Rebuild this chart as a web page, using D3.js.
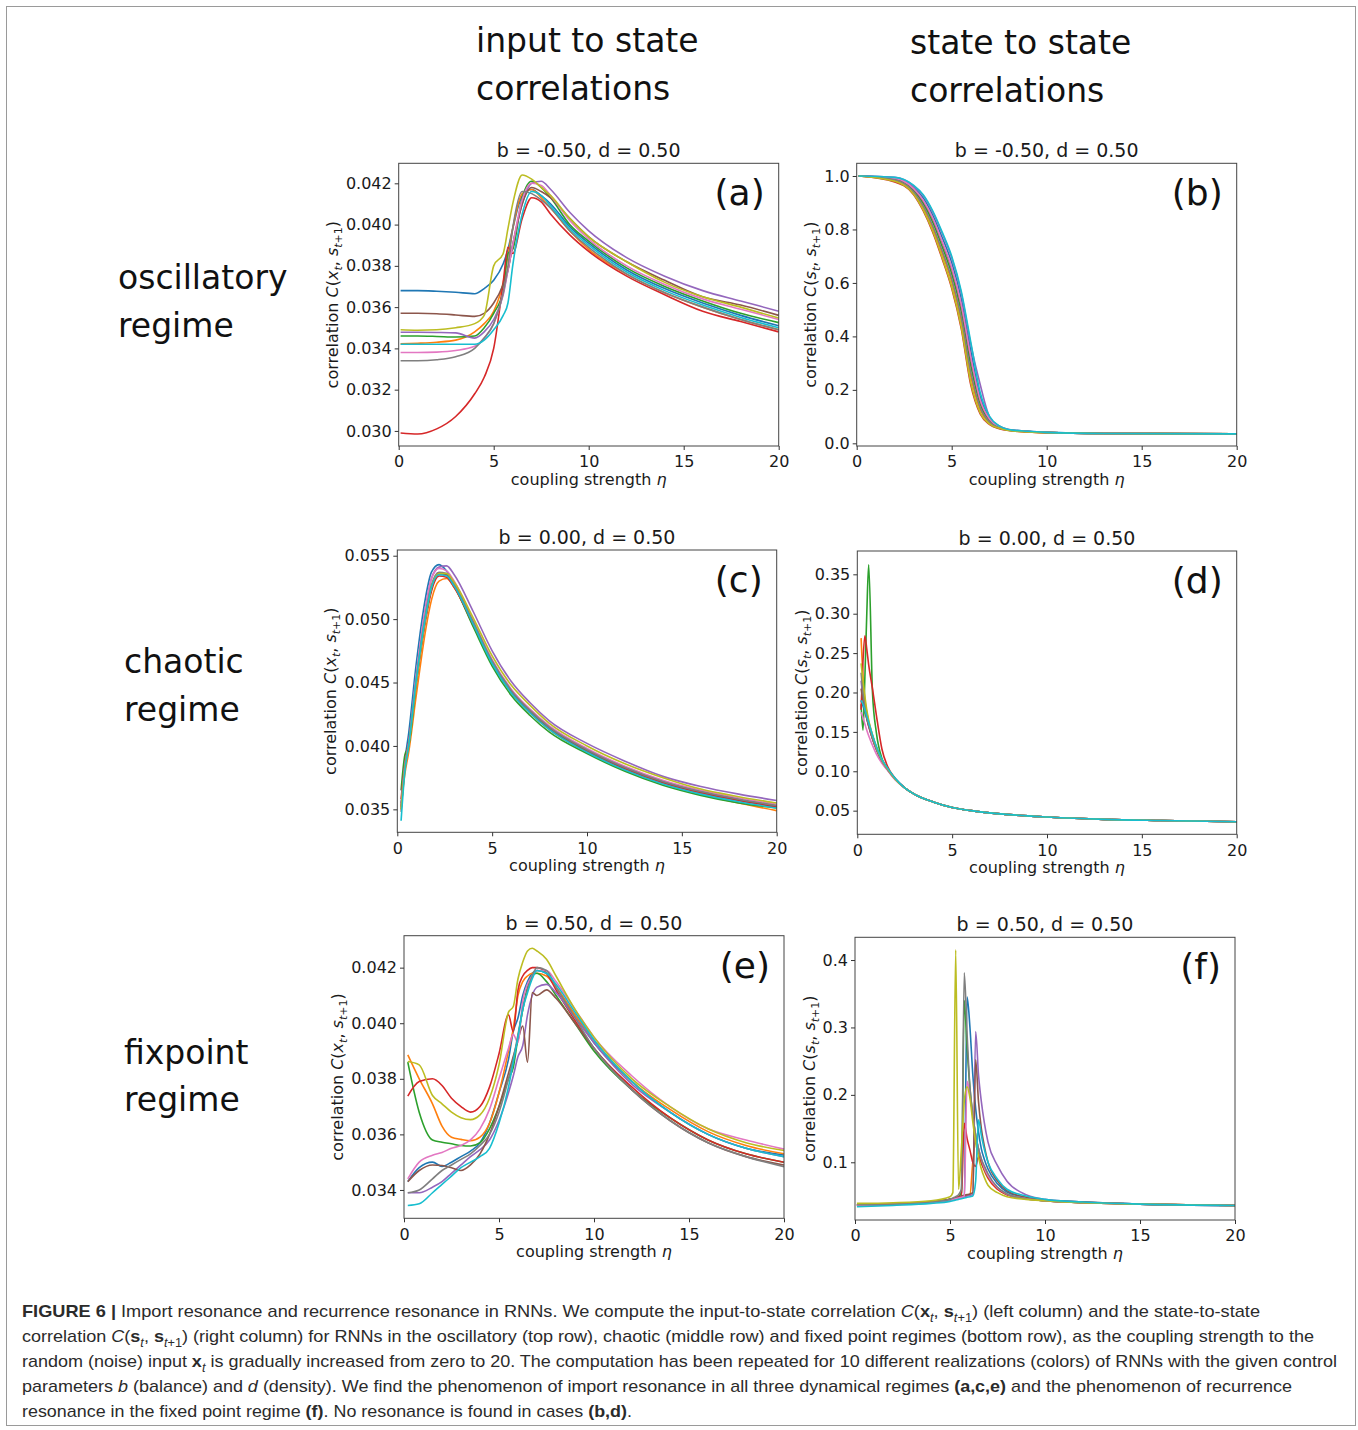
<!DOCTYPE html>
<html>
<head>
<meta charset="utf-8">
<script src="https://cdn.jsdelivr.net/npm/d3@7"></script>
<style>
  body { margin: 0; background: #fff; }
  text { font-family: "DejaVu Sans", sans-serif; }
</style>
</head>
<body>
<svg id="fig" width="1358" height="1430"></svg>
<script>
// series order: matplotlib tab10 (blue, orange, green, red, purple, brown, pink, gray, olive, cyan)
const colors = ["#1f77b4", "#ff7f0e", "#2ca02c", "#d62728", "#9467bd", "#8c564b", "#e377c2", "#7f7f7f", "#bcbd22", "#17becf"];

const xTicks = [0, 5, 10, 15, 20];

// (a) oscillatory, input to state
const etaA = [0.1, 1, 2, 3, 4, 4.5, 5, 5.5, 5.75, 6, 6.5, 7, 7.5, 8, 9, 10, 12, 14, 16, 18, 20];
const corrA = [
  [0.0368, 0.0368, 0.03677, 0.03672, 0.03665, 0.0369, 0.0373, 0.0381, 0.0388, 0.0398, 0.0414, 0.0417, 0.0414, 0.0410, 0.0399, 0.0391, 0.0378, 0.0369, 0.0362, 0.0356, 0.0351],
  [0.03422, 0.03425, 0.0343, 0.0344, 0.0348, 0.0352, 0.0358, 0.0372, 0.0385, 0.0398, 0.0415, 0.0417, 0.0413, 0.0408, 0.0397, 0.0388, 0.0376, 0.0367, 0.0360, 0.0354, 0.0349],
  [0.0346, 0.0346, 0.03458, 0.03455, 0.0346, 0.0350, 0.0357, 0.0368, 0.0386, 0.0388, 0.0413, 0.0421, 0.0418, 0.0413, 0.0400, 0.0392, 0.0379, 0.0370, 0.0363, 0.0357, 0.03525],
  [0.0299, 0.02985, 0.0301, 0.0307, 0.0318, 0.0326, 0.0340, 0.0372, 0.0389, 0.0386, 0.0403, 0.0413, 0.0411, 0.0405, 0.0395, 0.0387, 0.0375, 0.0366, 0.0358, 0.0353, 0.0348],
  [0.03478, 0.03478, 0.03477, 0.03475, 0.0345, 0.0348, 0.0354, 0.0366, 0.0378, 0.0390, 0.0410, 0.0420, 0.0421, 0.0417, 0.0406, 0.0397, 0.0384, 0.0375, 0.0368, 0.0363, 0.0358],
  [0.0357, 0.0357, 0.03568, 0.03562, 0.03555, 0.0357, 0.0362, 0.0371, 0.0378, 0.0390, 0.0410, 0.0418, 0.0416, 0.0413, 0.0403, 0.0394, 0.0382, 0.0373, 0.0365, 0.0361, 0.0356],
  [0.0338, 0.0338, 0.03382, 0.0339, 0.0341, 0.0345, 0.0352, 0.0367, 0.0378, 0.0390, 0.0412, 0.0420, 0.0419, 0.0414, 0.0402, 0.0393, 0.0380, 0.0371, 0.0364, 0.0359, 0.0354],
  [0.0334, 0.0334, 0.03345, 0.0336, 0.0340, 0.0345, 0.0352, 0.0367, 0.0380, 0.0398, 0.0416, 0.0415, 0.0412, 0.0408, 0.0397, 0.0389, 0.0376, 0.0367, 0.0360, 0.0354, 0.0349],
  [0.0349, 0.03488, 0.0349, 0.0350, 0.0352, 0.0356, 0.0380, 0.0386, 0.0398, 0.0410, 0.0424, 0.0422, 0.0418, 0.0414, 0.0403, 0.0394, 0.0382, 0.0372, 0.0365, 0.0360, 0.03547],
  [0.0342, 0.0342, 0.0342, 0.0342, 0.0342, 0.0344, 0.0349, 0.0356, 0.0362, 0.0380, 0.0405, 0.0416, 0.0414, 0.0409, 0.0398, 0.0390, 0.0377, 0.0368, 0.0361, 0.0355, 0.0350]
];
const yTicksA = [0.030, 0.032, 0.034, 0.036, 0.038, 0.040, 0.042];

// (b) oscillatory, state to state
const etaB = [0.1, 2, 3, 3.5, 4, 4.5, 5, 5.5, 6, 6.5, 7, 7.5, 8, 9, 10, 13, 20];
const corrB = [
  [1.0, 0.993, 0.958, 0.918, 0.854, 0.770, 0.676, 0.542, 0.348, 0.174, 0.094, 0.063, 0.051, 0.045, 0.0408, 0.037, 0.0356],
  [1.0, 0.984, 0.937, 0.882, 0.806, 0.710, 0.604, 0.458, 0.252, 0.126, 0.076, 0.057, 0.049, 0.043, 0.040, 0.037, 0.036],
  [1.0, 0.988, 0.946, 0.897, 0.827, 0.735, 0.634, 0.493, 0.292, 0.146, 0.084, 0.060, 0.050, 0.044, 0.0405, 0.037, 0.0358],
  [1.0, 0.978, 0.930, 0.870, 0.790, 0.690, 0.580, 0.430, 0.220, 0.110, 0.070, 0.055, 0.048, 0.043, 0.040, 0.037, 0.036],
  [1.0, 0.995, 0.963, 0.927, 0.866, 0.785, 0.694, 0.563, 0.372, 0.220, 0.098, 0.065, 0.052, 0.045, 0.041, 0.037, 0.0355],
  [1.0, 0.990, 0.951, 0.906, 0.839, 0.750, 0.652, 0.514, 0.316, 0.158, 0.088, 0.061, 0.050, 0.044, 0.0406, 0.037, 0.0357],
  [1.0, 0.991, 0.953, 0.909, 0.843, 0.755, 0.658, 0.521, 0.324, 0.162, 0.090, 0.062, 0.051, 0.044, 0.0406, 0.037, 0.0357],
  [1.0, 0.986, 0.940, 0.888, 0.814, 0.720, 0.616, 0.472, 0.268, 0.134, 0.079, 0.058, 0.049, 0.044, 0.040, 0.037, 0.036],
  [1.0, 0.980, 0.932, 0.873, 0.794, 0.695, 0.586, 0.437, 0.228, 0.114, 0.072, 0.056, 0.048, 0.043, 0.040, 0.037, 0.036],
  [1.0, 0.995, 0.965, 0.930, 0.870, 0.790, 0.700, 0.570, 0.380, 0.190, 0.100, 0.065, 0.052, 0.045, 0.041, 0.037, 0.0355]
];
const yTicksB = [0.0, 0.2, 0.4, 0.6, 0.8, 1.0];

// (c) chaotic, input to state
const etaC = [0.2, 0.4, 0.6, 1, 1.5, 1.8, 2.2, 2.6, 3, 4, 5, 6, 7, 8, 10, 12, 14, 16, 18, 20];
const corrC = [
  [0.0350, 0.0388, 0.0410, 0.0465, 0.0518, 0.0537, 0.0543, 0.0538, 0.0528, 0.0497, 0.0466, 0.0443, 0.0427, 0.0414, 0.0396, 0.0382, 0.0371, 0.0363, 0.0357, 0.0352],
  [0.0352, 0.0378, 0.0395, 0.0440, 0.0492, 0.0515, 0.0530, 0.0532, 0.0525, 0.0495, 0.0465, 0.0442, 0.0426, 0.0413, 0.0395, 0.0381, 0.0370, 0.0362, 0.0355, 0.0349],
  [0.0365, 0.0393, 0.0400, 0.0450, 0.0502, 0.0524, 0.0536, 0.0535, 0.0526, 0.0494, 0.0463, 0.0440, 0.0424, 0.0411, 0.0394, 0.0380, 0.0369, 0.0361, 0.0355, 0.0351],
  [0.0358, 0.0386, 0.0403, 0.0450, 0.0500, 0.0522, 0.0534, 0.0533, 0.0525, 0.0496, 0.0466, 0.0443, 0.0427, 0.0414, 0.0396, 0.0382, 0.0371, 0.0363, 0.0357, 0.0352],
  [0.0355, 0.0385, 0.0402, 0.0455, 0.0510, 0.0532, 0.0541, 0.0542, 0.0535, 0.0506, 0.0475, 0.0451, 0.0434, 0.0420, 0.0402, 0.0388, 0.0376, 0.0368, 0.0362, 0.0357],
  [0.0352, 0.0384, 0.0401, 0.0451, 0.0502, 0.0524, 0.0536, 0.0535, 0.0527, 0.0497, 0.0466, 0.0443, 0.0427, 0.0414, 0.0396, 0.0383, 0.0372, 0.0364, 0.0358, 0.0353],
  [0.0350, 0.0384, 0.0402, 0.0456, 0.0510, 0.0532, 0.0540, 0.0538, 0.0530, 0.0499, 0.0468, 0.0445, 0.0429, 0.0416, 0.0398, 0.0384, 0.0373, 0.0365, 0.0359, 0.0354],
  [0.0348, 0.0383, 0.0401, 0.0453, 0.0505, 0.0527, 0.0537, 0.0536, 0.0528, 0.0498, 0.0467, 0.0444, 0.0428, 0.0415, 0.0397, 0.0383, 0.0372, 0.0364, 0.0358, 0.0353],
  [0.0350, 0.0382, 0.0400, 0.0450, 0.0502, 0.0525, 0.0536, 0.0536, 0.0529, 0.0501, 0.0471, 0.0448, 0.0432, 0.0418, 0.0400, 0.0386, 0.0375, 0.0366, 0.0360, 0.0355],
  [0.0341, 0.0380, 0.0400, 0.0452, 0.0503, 0.0525, 0.0535, 0.0534, 0.0526, 0.0496, 0.0465, 0.0442, 0.0426, 0.0413, 0.0395, 0.0381, 0.0370, 0.0362, 0.0356, 0.0351]
];
const yTicksC = [0.035, 0.040, 0.045, 0.050, 0.055];

// (d) chaotic, state to state
const etaD = [0.2, 0.3, 0.4, 0.5, 0.6, 0.8, 1.0, 1.3, 1.6, 2, 2.5, 3, 4, 5, 6, 8, 10, 13, 16, 20];
const corrD = [
  [0.190, 0.183, 0.175, 0.167, 0.158, 0.142, 0.129, 0.113, 0.102, 0.090, 0.079, 0.071, 0.061, 0.054, 0.050, 0.045, 0.042, 0.039, 0.0375, 0.036],
  [0.269, 0.220, 0.190, 0.175, 0.163, 0.146, 0.131, 0.115, 0.103, 0.090, 0.079, 0.071, 0.061, 0.054, 0.050, 0.045, 0.042, 0.039, 0.0375, 0.036],
  [0.185, 0.152, 0.220, 0.300, 0.362, 0.200, 0.150, 0.116, 0.103, 0.090, 0.079, 0.071, 0.061, 0.054, 0.050, 0.045, 0.042, 0.039, 0.0375, 0.036],
  [0.178, 0.240, 0.272, 0.255, 0.235, 0.205, 0.172, 0.128, 0.106, 0.091, 0.079, 0.071, 0.061, 0.054, 0.050, 0.045, 0.042, 0.039, 0.0375, 0.036],
  [0.215, 0.195, 0.180, 0.168, 0.158, 0.142, 0.128, 0.112, 0.102, 0.090, 0.079, 0.071, 0.061, 0.054, 0.050, 0.045, 0.042, 0.039, 0.0375, 0.036],
  [0.205, 0.190, 0.178, 0.167, 0.157, 0.141, 0.128, 0.112, 0.102, 0.090, 0.079, 0.071, 0.061, 0.054, 0.050, 0.045, 0.042, 0.039, 0.0375, 0.036],
  [0.175, 0.168, 0.160, 0.152, 0.145, 0.133, 0.122, 0.110, 0.101, 0.089, 0.079, 0.071, 0.061, 0.054, 0.050, 0.045, 0.042, 0.039, 0.0375, 0.036],
  [0.225, 0.200, 0.183, 0.170, 0.160, 0.143, 0.129, 0.113, 0.102, 0.090, 0.079, 0.071, 0.061, 0.054, 0.050, 0.045, 0.042, 0.039, 0.0375, 0.036],
  [0.237, 0.215, 0.195, 0.178, 0.165, 0.146, 0.131, 0.114, 0.103, 0.090, 0.079, 0.071, 0.061, 0.054, 0.050, 0.045, 0.042, 0.039, 0.0375, 0.036],
  [0.190, 0.185, 0.178, 0.170, 0.162, 0.146, 0.132, 0.115, 0.104, 0.091, 0.079, 0.071, 0.061, 0.054, 0.050, 0.045, 0.042, 0.039, 0.0375, 0.036]
];
const yTicksD = [0.05, 0.10, 0.15, 0.20, 0.25, 0.30, 0.35];

// (e) fixpoint, input to state
const etaE = [0.2, 0.8, 1.5, 2, 2.5, 3, 3.5, 4, 4.5, 5, 5.5, 5.75, 6, 6.25, 6.5, 6.75, 7, 7.5, 8, 9, 10, 12, 14, 16, 18, 20];
const corrE = [
  [0.0343, 0.0348, 0.0350, 0.03485, 0.0350, 0.0352, 0.0354, 0.0357, 0.0364, 0.0375, 0.0387, 0.0397, 0.0402, 0.0410, 0.0415, 0.0418, 0.0419, 0.0418, 0.0413, 0.0403, 0.0393, 0.0379, 0.0368, 0.0360, 0.0355, 0.03526],
  [0.03886, 0.0380, 0.0371, 0.0363, 0.0359, 0.03582, 0.03577, 0.0359, 0.0364, 0.0375, 0.0390, 0.0398, 0.0410, 0.0415, 0.0417, 0.0418, 0.0418, 0.0417, 0.0413, 0.0403, 0.0394, 0.0379, 0.0369, 0.0361, 0.0356, 0.0353],
  [0.0386, 0.0368, 0.0358, 0.03572, 0.03566, 0.0356, 0.03558, 0.0357, 0.0362, 0.0370, 0.0380, 0.0384, 0.0395, 0.0405, 0.0413, 0.0417, 0.0418, 0.0415, 0.0410, 0.0400, 0.0390, 0.0376, 0.0366, 0.0358, 0.0353, 0.0350],
  [0.03738, 0.0379, 0.0380, 0.03776, 0.0373, 0.0370, 0.0368, 0.0370, 0.0377, 0.0389, 0.0403, 0.0397, 0.0412, 0.0417, 0.0419, 0.0420, 0.0420, 0.0418, 0.0412, 0.0401, 0.0391, 0.0377, 0.0366, 0.0358, 0.0353, 0.0350],
  [0.0339, 0.0339, 0.0341, 0.0343, 0.0346, 0.0349, 0.0352, 0.03545, 0.0358, 0.0365, 0.0375, 0.0381, 0.0388, 0.0392, 0.0403, 0.0410, 0.0413, 0.0414, 0.0411, 0.0402, 0.0393, 0.0378, 0.0368, 0.0360, 0.0355, 0.0352],
  [0.0343, 0.0347, 0.0349, 0.03488, 0.0348, 0.0347, 0.0349, 0.0353, 0.0360, 0.0370, 0.0382, 0.0388, 0.0394, 0.0399, 0.0386, 0.0411, 0.0410, 0.0412, 0.0409, 0.0400, 0.0391, 0.0376, 0.0365, 0.0357, 0.0352, 0.0349],
  [0.0344, 0.0350, 0.03525, 0.03535, 0.0355, 0.0356, 0.0358, 0.0362, 0.0369, 0.0380, 0.0391, 0.0396, 0.0393, 0.0408, 0.0414, 0.0417, 0.0419, 0.0419, 0.0415, 0.0405, 0.0395, 0.0381, 0.0370, 0.0362, 0.0358, 0.03547],
  [0.0339, 0.0340, 0.0344, 0.0347, 0.0349, 0.0351, 0.0353, 0.0356, 0.0360, 0.0368, 0.0380, 0.0387, 0.0396, 0.0405, 0.0412, 0.0417, 0.0420, 0.0419, 0.0413, 0.0402, 0.0391, 0.0376, 0.0365, 0.0357, 0.0352, 0.03484],
  [0.03862, 0.0385, 0.0374, 0.0371, 0.0368, 0.0366, 0.03653, 0.0367, 0.0373, 0.0385, 0.0404, 0.0406, 0.0416, 0.0422, 0.0426, 0.0427, 0.0426, 0.0423, 0.0417, 0.0405, 0.0395, 0.0380, 0.0370, 0.0362, 0.0357, 0.03542],
  [0.03344, 0.0335, 0.0339, 0.0342, 0.0345, 0.0348, 0.0350, 0.0352, 0.0355, 0.0364, 0.0377, 0.0386, 0.0395, 0.0405, 0.0411, 0.0416, 0.0419, 0.0418, 0.0414, 0.0404, 0.0394, 0.0379, 0.0368, 0.0360, 0.0355, 0.0352]
];
const yTicksE = [0.034, 0.036, 0.038, 0.040, 0.042];

// (f) fixpoint, state to state
const etaF = [0.1, 2, 4, 5, 5.15, 5.3, 5.45, 5.6, 5.75, 5.9, 6.05, 6.2, 6.35, 6.5, 6.65, 6.8, 7, 7.5, 8, 9, 10, 12, 15, 20];
const corrF = [
  [0.036, 0.038, 0.040, 0.044, 0.045, 0.046, 0.047, 0.048, 0.050, 0.345, 0.300, 0.230, 0.180, 0.145, 0.120, 0.105, 0.090, 0.068, 0.056, 0.048, 0.044, 0.041, 0.038, 0.036],
  [0.037, 0.038, 0.041, 0.045, 0.046, 0.047, 0.048, 0.049, 0.050, 0.051, 0.052, 0.100, 0.130, 0.115, 0.100, 0.088, 0.076, 0.060, 0.052, 0.046, 0.043, 0.040, 0.038, 0.036],
  [0.037, 0.038, 0.041, 0.045, 0.046, 0.047, 0.049, 0.055, 0.340, 0.270, 0.210, 0.170, 0.140, 0.120, 0.100, 0.090, 0.078, 0.062, 0.053, 0.046, 0.043, 0.040, 0.038, 0.036],
  [0.037, 0.038, 0.041, 0.045, 0.046, 0.048, 0.049, 0.050, 0.158, 0.135, 0.118, 0.100, 0.094, 0.108, 0.100, 0.090, 0.078, 0.060, 0.052, 0.046, 0.043, 0.040, 0.038, 0.036],
  [0.036, 0.037, 0.040, 0.044, 0.045, 0.046, 0.047, 0.048, 0.049, 0.050, 0.051, 0.052, 0.294, 0.230, 0.190, 0.160, 0.130, 0.095, 0.072, 0.052, 0.045, 0.041, 0.038, 0.036],
  [0.037, 0.038, 0.041, 0.045, 0.046, 0.047, 0.048, 0.050, 0.051, 0.052, 0.053, 0.055, 0.252, 0.190, 0.150, 0.125, 0.100, 0.072, 0.058, 0.048, 0.044, 0.041, 0.038, 0.036],
  [0.036, 0.038, 0.040, 0.044, 0.045, 0.046, 0.047, 0.048, 0.050, 0.220, 0.200, 0.170, 0.140, 0.120, 0.105, 0.092, 0.080, 0.062, 0.053, 0.046, 0.043, 0.040, 0.038, 0.036],
  [0.037, 0.038, 0.041, 0.045, 0.047, 0.049, 0.052, 0.060, 0.381, 0.290, 0.210, 0.170, 0.140, 0.120, 0.105, 0.095, 0.083, 0.063, 0.053, 0.046, 0.043, 0.040, 0.038, 0.036],
  [0.039, 0.040, 0.043, 0.049, 0.055, 0.415, 0.060, 0.120, 0.190, 0.212, 0.195, 0.160, 0.130, 0.108, 0.090, 0.078, 0.066, 0.055, 0.049, 0.045, 0.043, 0.040, 0.038, 0.036],
  [0.034, 0.036, 0.039, 0.042, 0.043, 0.044, 0.045, 0.046, 0.047, 0.048, 0.049, 0.050, 0.072, 0.163, 0.140, 0.120, 0.100, 0.075, 0.060, 0.050, 0.045, 0.041, 0.038, 0.036]
];
const yTicksF = [0.1, 0.2, 0.3, 0.4];

const titles = ["b = -0.50, d = 0.50", "b = -0.50, d = 0.50", "b = 0.00, d = 0.50", "b = 0.00, d = 0.50", "b = 0.50, d = 0.50", "b = 0.50, d = 0.50"];
const letters = ["(a)", "(b)", "(c)", "(d)", "(e)", "(f)"];

const svg = d3.select("#fig");

// text made of styled pieces: B bold, I italic, S subscript
function rich(text, segs, size) {
  let shift = 0;
  segs.forEach(([t, st = ""]) => {
    const sub = st.includes("S");
    const target = sub ? Math.round(size * 0.28) : 0;
    const ts = text.append("tspan").text(t).attr("dy", target - shift);
    shift = target;
    if (sub) ts.attr("font-size", Math.round(size * 0.7));
    if (st.includes("B")) ts.attr("font-weight", "bold");
    if (st.includes("I")) ts.attr("font-style", "italic");
  });
  return text;
}

svg.append("rect")
  .attr("x", 6.5).attr("y", 6.5).attr("width", 1349).attr("height", 1419)
  .attr("fill", "none").attr("stroke", "#9a9a9a").attr("stroke-width", 1);

// column and row headings
const heads = [
  { x: 476, y: 52, t: "input to state" }, { x: 476, y: 100, t: "correlations" },
  { x: 910, y: 54, t: "state to state" }, { x: 910, y: 102, t: "correlations" },
  { x: 118, y: 289, t: "oscillatory" }, { x: 118, y: 337, t: "regime" },
  { x: 124, y: 673, t: "chaotic" }, { x: 124, y: 721, t: "regime" },
  { x: 124, y: 1064, t: "fixpoint" }, { x: 124, y: 1111, t: "regime" }
];
svg.selectAll("text.head").data(heads).enter().append("text")
  .attr("class", "head")
  .attr("x", d => d.x).attr("y", d => d.y)
  .attr("font-size", 33).attr("fill", "#111")
  .text(d => d.t);

const panels = [
  { eta: etaA, series: corrA, ticks: yTicksA, fmt: ".3f", box: [398.7, 163.3, 778.7, 446], ydom: [0.02927, 0.04297], ylab: "x" },
  { eta: etaB, series: corrB, ticks: yTicksB, fmt: ".1f", box: [856.7, 163.3, 1236.7, 446], ydom: [-0.01, 1.0475], ylab: "s" },
  { eta: etaC, series: corrC, ticks: yTicksC, fmt: ".3f", box: [397.3, 550, 776.7, 832.3], ydom: [0.03319, 0.05545], ylab: "x" },
  { eta: etaD, series: corrD, ticks: yTicksD, fmt: ".2f", box: [857.3, 551, 1236.7, 834.3], ydom: [0.020, 0.3796], ylab: "s" },
  { eta: etaE, series: corrE, ticks: yTicksE, fmt: ".3f", box: [404, 935.7, 784, 1218.3], ydom: [0.03298, 0.04315], ylab: "x" },
  { eta: etaF, series: corrF, ticks: yTicksF, fmt: ".1f", box: [855, 937.3, 1235, 1220], ydom: [0.0144, 0.4337], ylab: "s" }
];

panels.forEach((p, k) => {
  const [left, top, right, bottom] = p.box;
  const x = d3.scaleLinear().domain([0, 20]).range([left, right]);
  const y = d3.scaleLinear().domain(p.ydom).range([bottom, top]);
  const g = svg.append("g");

  const line = d3.line()
    .x((d, i) => x(p.eta[i]))
    .y(d => y(d))
    .curve(d3.curveMonotoneX);

  g.selectAll("path.curve").data(p.series).enter().append("path")
    .attr("class", "curve")
    .attr("d", line)
    .attr("fill", "none")
    .attr("stroke", (d, i) => colors[i])
    .attr("stroke-width", 1.6)
    .attr("stroke-linejoin", "round");

  g.append("rect")
    .attr("x", left).attr("y", top).attr("width", right - left).attr("height", bottom - top)
    .attr("fill", "none").attr("stroke", "#444").attr("stroke-width", 1);

  const xa = g.append("g").attr("transform", `translate(0,${bottom})`)
    .call(d3.axisBottom(x).tickValues(xTicks).tickSize(4).tickPadding(6).tickFormat(d3.format("d")));
  const ya = g.append("g").attr("transform", `translate(${left},0)`)
    .call(d3.axisLeft(y).tickValues(p.ticks).tickSize(4).tickPadding(3).tickFormat(d3.format(p.fmt)));
  [xa, ya].forEach(a => {
    a.select(".domain").remove();
    a.selectAll("line").attr("stroke", "#333");
    a.selectAll("text").attr("font-size", 16).attr("fill", "#1a1a1a").attr("font-family", "DejaVu Sans");
  });

  let tw = 0;
  ya.selectAll("text").each(function () { tw = Math.max(tw, this.getComputedTextLength()); });

  g.append("text")
    .attr("x", (left + right) / 2).attr("y", top - 6)
    .attr("text-anchor", "middle").attr("font-size", 19).attr("fill", "#1a1a1a")
    .text(titles[k]);

  g.append("text")
    .attr("x", right - 14).attr("y", top + 42)
    .attr("text-anchor", "end").attr("font-size", 36).attr("fill", "#111")
    .text(letters[k]);

  g.append("text")
    .attr("x", (left + right) / 2).attr("y", bottom + 39)
    .attr("text-anchor", "middle").attr("font-size", 16).attr("fill", "#1a1a1a")
    .call(t => rich(t, [["coupling strength "], ["η", "I"]], 16));

  const yl = g.append("text")
    .attr("transform", `translate(${left - tw - 15},${(top + bottom) / 2}) rotate(-90)`)
    .attr("text-anchor", "middle").attr("font-size", 16).attr("fill", "#1a1a1a");
  rich(yl, [["correlation "], ["C", "I"], ["("], [p.ylab, "I"], ["t", "IS"], [", "], ["s", "I"], ["t", "IS"], ["+1", "S"], [")"]], 16);
});

// caption
const caption = [
  [["FIGURE 6 | ", "B"], ["Import resonance and recurrence resonance in RNNs. We compute the input-to-state correlation "], ["C", "I"], ["("], ["x", "B"], ["t", "IS"], [", "], ["s", "B"], ["t", "IS"], ["+1", "S"], [") (left column) and the state-to-state"]],
  [["correlation "], ["C", "I"], ["("], ["s", "B"], ["t", "IS"], [", "], ["s", "B"], ["t", "IS"], ["+1", "S"], [") (right column) for RNNs in the oscillatory (top row), chaotic (middle row) and fixed point regimes (bottom row), as the coupling strength to the"]],
  [["random (noise) input "], ["x", "B"], ["t", "IS"], [" is gradually increased from zero to 20. The computation has been repeated for 10 different realizations (colors) of RNNs with the given control"]],
  [["parameters "], ["b", "I"], [" (balance) and "], ["d", "I"], [" (density). We find the phenomenon of import resonance in all three dynamical regimes "], ["(a,c,e)", "B"], [" and the phenomenon of recurrence"]],
  [["resonance in the fixed point regime "], ["(f)", "B"], [". No resonance is found in cases "], ["(b,d)", "B"], ["."]]
];
const capWidth = [1238, 1292, 1315, 1270, 610];
caption.forEach((segs, i) => {
  const t = svg.append("text")
    .attr("x", 22).attr("y", 1317 + i * 25)
    .attr("font-size", 17).attr("fill", "#2b2b2b")
    .style("font-family", "'Liberation Sans Narrow', 'Liberation Sans', sans-serif");
  rich(t, segs, 17);
  const w = t.node().getComputedTextLength();
  if (Math.abs(w - capWidth[i]) > 4) t.attr("textLength", capWidth[i]).attr("lengthAdjust", "spacingAndGlyphs");
});
</script>
</body>
</html>
